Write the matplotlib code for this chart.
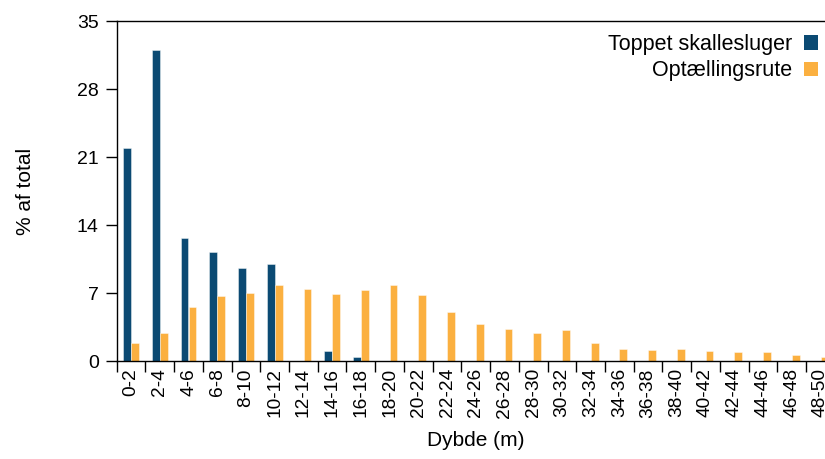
import matplotlib
matplotlib.use("Agg")
import matplotlib.pyplot as plt
from matplotlib.patches import Patch
import numpy as np

plt.rcParams['font.family'] = ['Liberation Sans', 'DejaVu Sans']

depths = ["0-2", "2-4", "4-6", "6-8", "8-10", "10-12", "12-14", "14-16", "16-18",
          "18-20", "20-22", "22-24", "24-26", "26-28", "28-30", "30-32", "32-34",
          "34-36", "36-38", "38-40", "40-42", "42-44", "44-46", "46-48", "48-50"]
merganser = [22.0, 32.0, 12.7, 11.2, 9.6, 10.0, 0, 1.1, 0.4,
             0, 0, 0, 0, 0, 0, 0, 0, 0, 0, 0, 0, 0, 0, 0, 0]
transect = [1.9, 2.9, 5.6, 6.7, 7.0, 7.9, 7.4, 6.9, 7.3,
            7.9, 6.8, 5.1, 3.8, 3.3, 2.9, 3.2, 1.9, 1.3, 1.2, 1.3, 1.1, 1.0, 1.0, 0.6, 0.4]
yticks = [0, 7, 14, 21, 28, 35]

blue = "#0b4a73"
orange = "#fbb040"

fig = plt.figure(figsize=(8.25, 4.59), dpi=100)
ax = fig.add_axes([0.1415, 0.2129, 0.8703, 0.7407])

x = np.arange(len(depths))
w = 0.27
ax.bar(x - 0.14, merganser, width=w, color=blue, edgecolor=(1, 1, 1, 0.5), linewidth=0.6)
ax.bar(x + 0.14, transect, width=w, color=orange, edgecolor=(1, 1, 1, 0.5), linewidth=0.6)

ax.set_xlim(-0.5, len(depths) - 0.5)
ax.set_ylim(0, 35)
ax.set_yticks(yticks)
ax.set_yticklabels([str(v) for v in yticks], fontsize=14)
ax.tick_params(axis='y', length=8, width=1, pad=5)

ax.set_xticks(x)
ax.set_xticklabels(depths, rotation=90, fontsize=13.8)
ax.tick_params(axis='x', which='major', length=0, pad=5)
ax.set_xticks(np.arange(-0.5, len(depths), 1), minor=True)
ax.tick_params(axis='x', which='minor', length=8, width=1)

for s in ['left', 'top', 'bottom']:
    ax.spines[s].set_linewidth(1)
    ax.spines[s].set_color('black')
ax.spines['right'].set_visible(False)

ax.set_ylabel("% af total", fontsize=15, labelpad=30)
ax.set_xlabel("Dybde (m)", fontsize=15, labelpad=10)

handles = [Patch(facecolor=blue, edgecolor='none', label="Toppet skallesluger"),
           Patch(facecolor=orange, edgecolor='none', label="Optællingsrute")]
fig.legend(handles=handles, loc='upper right', bbox_to_anchor=(818 / 825, 1 - 34 / 459),
           frameon=False, fontsize=15.5, markerfirst=False, handlelength=0.65,
           handleheight=0.65, handletextpad=0.55, labelspacing=0.25,
           borderpad=0, borderaxespad=0)

fig.savefig("out.png", dpi=100)
